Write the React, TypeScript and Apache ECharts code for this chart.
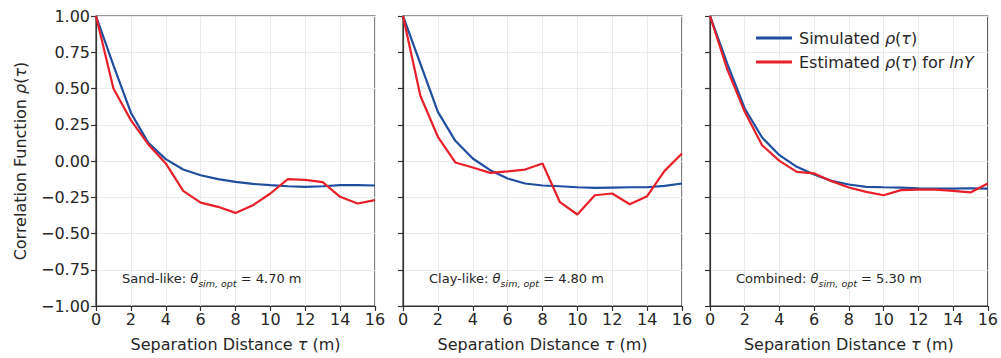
import React, { useEffect, useRef } from "react";
import * as echarts from "echarts";

const taus = [0, 1, 2, 3, 4, 5, 6, 7, 8, 9, 10, 11, 12, 13, 14, 15, 16];

const sandSim = [1.0, 0.66, 0.333, 0.125, 0.013, -0.059, -0.098, -0.125, -0.144, -0.158, -0.167, -0.174, -0.178, -0.174, -0.167, -0.167, -0.169];
const sandEst = [1.0, 0.5, 0.282, 0.114, -0.017, -0.206, -0.287, -0.316, -0.358, -0.305, -0.224, -0.125, -0.13, -0.146, -0.247, -0.293, -0.27];
const claySim = [1.0, 0.67, 0.339, 0.139, 0.017, -0.063, -0.121, -0.155, -0.169, -0.174, -0.181, -0.185, -0.183, -0.181, -0.181, -0.171, -0.155];
const clayEst = [1.0, 0.448, 0.167, -0.01, -0.045, -0.082, -0.072, -0.059, -0.017, -0.284, -0.369, -0.236, -0.224, -0.298, -0.243, -0.068, 0.052];
const combSim = [1.0, 0.67, 0.362, 0.162, 0.04, -0.04, -0.093, -0.137, -0.162, -0.178, -0.181, -0.183, -0.188, -0.19, -0.19, -0.188, -0.19];
const combEst = [1.0, 0.63, 0.339, 0.109, 0.001, -0.075, -0.086, -0.139, -0.183, -0.213, -0.236, -0.201, -0.197, -0.197, -0.206, -0.217, -0.155];

const panelLabels = ["Sand-like", "Clay-like", "Combined"];
const thetaValues = ["4.70", "4.80", "5.30"];
const yTicks = { min: -1, max: 1, interval: 0.25 };
const xTicks = { min: 0, max: 16, interval: 2 };

const FONT = "DejaVu Sans";
const TXT = "#262626";
const BLUE = "#1f4e9f";
const RED = "#e8202a";

const panels = [
  { sim: sandSim, est: sandEst },
  { sim: claySim, est: clayEst },
  { sim: combSim, est: combEst },
];

const gridLefts = [96, 403, 710];
const GRID_W = 279;
const GRID_TOP = 16;
const GRID_H = 290;

const fmtY = (v: number) => v.toFixed(2).replace("-", "\u2212");

export default function App() {
  const ref = useRef<HTMLDivElement>(null);
  useEffect(() => {
    const chart = echarts.init(ref.current!, null, { renderer: "svg" });
    const italic = { fontStyle: "italic", fontFamily: FONT, fontSize: 16, color: TXT };
    const option: any = {
      animation: false,
      backgroundColor: "#ffffff",
      grid: gridLefts.map((l) => ({
        left: l,
        top: GRID_TOP,
        width: GRID_W,
        height: GRID_H,
        show: true,
        borderColor: "#333333",
        borderWidth: 1.2,
        backgroundColor: "transparent",
      })),
      xAxis: gridLefts.map((_, i) => ({
        type: "value",
        gridIndex: i,
        min: xTicks.min,
        max: xTicks.max,
        interval: xTicks.interval,
        name: "Separation Distance {i|\u03c4} (m)",
        nameLocation: "middle",
        nameGap: 30,
        nameTextStyle: { fontFamily: FONT, fontSize: 16, color: TXT, rich: { i: italic } },
        axisLine: { show: true, onZero: false, lineStyle: { color: "#333333", width: 1.2 } },
        axisTick: { show: true, length: 5, lineStyle: { color: "#333333", width: 1.2 } },
        axisLabel: { fontFamily: FONT, fontSize: 16, color: TXT, margin: 5 },
        splitLine: { show: true, lineStyle: { color: "#ebebeb", width: 1 } },
      })),
      yAxis: gridLefts.map((_, i) => ({
        type: "value",
        gridIndex: i,
        min: yTicks.min,
        max: yTicks.max,
        interval: yTicks.interval,
        name: i === 0 ? "Correlation Function {i|\u03c1}({i|\u03c4})" : "",
        nameLocation: "middle",
        nameGap: 68,
        nameTextStyle: { fontFamily: FONT, fontSize: 16, color: TXT, rich: { i: italic } },
        axisLine: { show: true, onZero: false, lineStyle: { color: "#333333", width: 1.2 } },
        axisTick: { show: true, length: 5, lineStyle: { color: "#333333", width: 1.2 } },
        axisLabel: {
          show: i === 0,
          fontFamily: FONT,
          fontSize: 16,
          color: TXT,
          margin: 6,
          formatter: fmtY,
        },
        splitLine: { show: true, lineStyle: { color: "#ebebeb", width: 1 } },
      })),
      legend: {
        show: true,
        orient: "vertical",
        left: 751,
        top: 25,
        itemWidth: 36,
        itemHeight: 3,
        itemGap: 8,
        icon: "rect",
        data: ["Simulated", "Estimated"],
        formatter: (name: string) =>
          name === "Simulated"
            ? "Simulated {i|\u03c1}({i|\u03c4})"
            : "Estimated {i|\u03c1}({i|\u03c4}) for {i|lnY}",
        textStyle: {
          fontFamily: FONT,
          fontSize: 16,
          color: TXT,
          padding: [0, 0, 0, 2],
          rich: { i: italic },
        },
      },
      series: panels.flatMap((p, i) => [
        {
          name: "Simulated",
          type: "line",
          xAxisIndex: i,
          yAxisIndex: i,
          showSymbol: false,
          symbol: "none",
          data: taus.map((t, k) => [t, p.sim[k]]),
          lineStyle: { color: BLUE, width: 2.2 },
          itemStyle: { color: BLUE },
          z: 3,
        },
        {
          name: "Estimated",
          type: "line",
          xAxisIndex: i,
          yAxisIndex: i,
          showSymbol: false,
          symbol: "none",
          data: taus.map((t, k) => [t, p.est[k]]),
          lineStyle: { color: RED, width: 2.2 },
          itemStyle: { color: RED },
          z: 4,
        },
      ]),
      graphic: gridLefts.map((l, i) => ({
        type: "text",
        left: l + 26,
        top: 272,
        z: 10,
        style: {
          text: `${panelLabels[i]}: {th|\u03b8}{sub|sim, opt} = ${thetaValues[i]} m`,
          fill: TXT,
          font: `13px "${FONT}"`,
          rich: {
            th: { fontStyle: "italic", fontFamily: FONT, fontSize: 13, fill: TXT },
            sub: {
              fontStyle: "italic",
              fontFamily: FONT,
              fontSize: 9.5,
              fill: TXT,
              padding: [10, 0, 0, 0],
            },
          },
        },
      })),
    };
    chart.setOption(option);
    return () => chart.dispose();
  }, []);
  return (
    <div
      ref={ref}
      style={{ position: "absolute", left: 0, top: 0, width: 1001, height: 358 }}
    />
  );
}
